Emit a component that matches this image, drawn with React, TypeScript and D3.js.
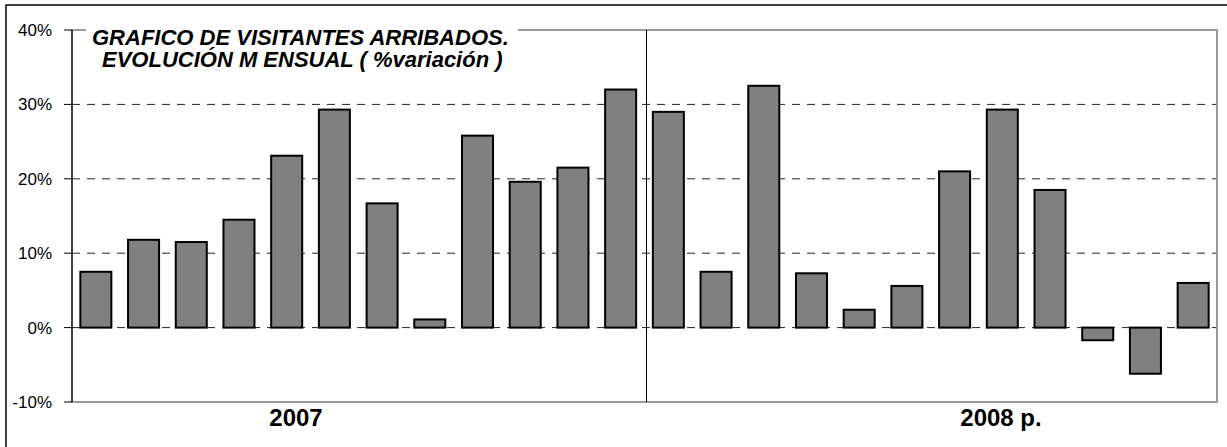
import React from 'react';
import * as d3 from 'd3';

const months = ['Ene', 'Feb', 'Mar', 'Abr', 'May', 'Jun', 'Jul', 'Ago', 'Sep', 'Oct', 'Nov', 'Dic'];
const years = ['2007', '2008 p.'];
const values2007 = [7.5, 11.8, 11.5, 14.5, 23.1, 29.3, 16.7, 1.1, 25.8, 19.6, 21.5, 32.0];
const values2008 = [29.0, 7.5, 32.5, 7.3, 2.4, 5.6, 21.0, 29.3, 18.5, -1.7, -6.2, 6.0];
const yTicks = [-10, 0, 10, 20, 30, 40];
const titleLines = ['GRAFICO DE VISITANTES ARRIBADOS.', 'EVOLUCIÓN M ENSUAL ( %variación )'];

const W = 1227;
const H = 447;
const left = 72;
const right = 1217;
const top = 30;
const bottom = 402;
const font = '"Liberation Sans", Arial, sans-serif';

const App: React.FC = () => {
  const data = [
    ...values2007.map((v, i) => ({ key: `${months[i]} ${years[0]}`, value: v })),
    ...values2008.map((v, i) => ({ key: `${months[i]} ${years[1]}`, value: v })),
  ];

  const x = d3.scaleBand<string>()
    .domain(data.map((d) => d.key))
    .range([left, right])
    .paddingInner(0.35)
    .paddingOuter(0.175);

  const y = d3.scaleLinear().domain([-10, 40]).range([bottom, top]);

  const step = x.step();
  const splitX = left + step * 12 + 2;

  return (
    <div style={{ position: 'absolute', left: 0, top: 0 }}>
      <svg width={W} height={H} style={{ display: 'block', background: '#fff' }}>
        {/* outer frame */}
        <rect x={6} y={5} width={W + 20} height={H + 20} fill="#fff" stroke="#000" strokeWidth={1.5} />

        {/* gridlines */}
        {yTicks.filter((t) => t > -10 && t < 40).map((t) => (
          <line key={t} x1={left} x2={right} y1={y(t)} y2={y(t)}
            stroke="#222" strokeWidth={1} strokeDasharray="8,7" />
        ))}

        {/* plot border */}
        <path d={`M${left},${top}H${right}V${bottom}H${left}`} fill="none" stroke="#9a9a9a" strokeWidth={2} />

        {/* year separator */}
        <line x1={splitX} x2={splitX} y1={top} y2={bottom} stroke="#000" strokeWidth={1} />

        {/* bars */}
        {data.map((d) => (
          <rect key={d.key}
            x={x(d.key)!}
            y={y(Math.max(0, d.value))}
            width={x.bandwidth()}
            height={Math.abs(y(d.value) - y(0))}
            fill="#808080" stroke="#000" strokeWidth={2} />
        ))}

        {/* y axis */}
        <line x1={left} x2={left} y1={top} y2={bottom} stroke="#000" strokeWidth={1.5} />
        {yTicks.map((t) => (
          <g key={t}>
            <line x1={left - 8} x2={left} y1={y(t)} y2={y(t)} stroke="#000" strokeWidth={1} />
            <text x={52} y={y(t)} dy="0.35em" textAnchor="end" fontFamily={font} fontSize={17} fill="#000">
              {`${t}%`}
            </text>
          </g>
        ))}

        {/* year labels */}
        <text x={296} y={426} textAnchor="middle" fontFamily={font} fontSize={24} fontWeight="bold">{years[0]}</text>
        <text x={1001} y={426} textAnchor="middle" fontFamily={font} fontSize={24} fontWeight="bold">{years[1]}</text>

        {/* title */}
        <rect x={86} y={22} width={432} height={54} fill="#fff" />
        <text fontFamily={font} fontSize={22} fontWeight="bold" fontStyle="italic" fill="#000">
          <tspan x={92} y={45}>{titleLines[0]}</tspan>
          <tspan x={102} y={67}>{titleLines[1]}</tspan>
        </text>
      </svg>
    </div>
  );
};

export default App;
